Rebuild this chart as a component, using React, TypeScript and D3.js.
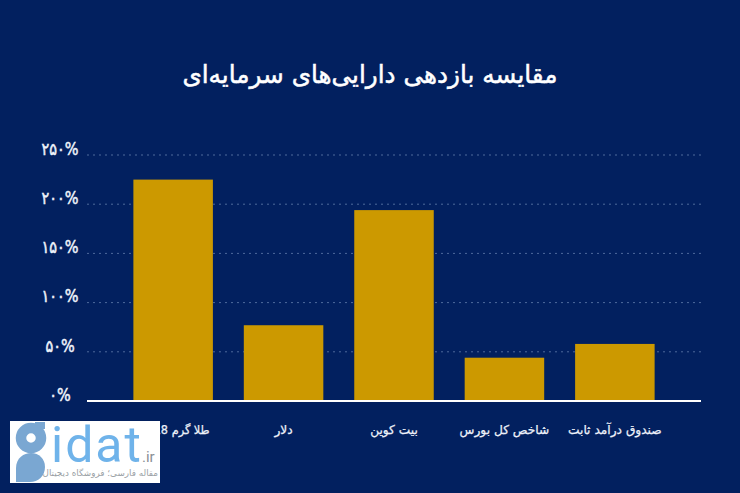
import React from "react";
import * as d3 from "d3";

const categories = ["طلا گرم 18", "دلار", "بیت کوین", "شاخص کل بورس", "صندوق درآمد ثابت"];
const returns = [225, 77, 194, 44, 58];
const ticks = [0, 50, 100, 150, 200, 250];
const tickLabels = ["۰%", "۵۰%", "۱۰۰%", "۱۵۰%", "۲۰۰%", "۲۵۰%"];
const title = "مقایسه بازدهی دارایی‌های سرمایه‌ای";

const width = 740;
const height = 493;
const font = "'DejaVu Sans', sans-serif";

const App: React.FC = () => {
  const x = d3
    .scaleBand<string>()
    .domain(categories)
    .range([87, 701])
    .paddingInner(0.28)
    .paddingOuter(0.42);
  const y = d3.scaleLinear().domain([0, 250]).range([401, 155]);

  return (
    <svg
      width={width}
      height={height}
      style={{ position: "absolute", left: 0, top: 0, background: "#02205f" }}
    >
      <text
        x={370}
        y={83}
        textAnchor="middle"
        direction="rtl"
        fill="#ffffff"
        stroke="#ffffff"
        strokeWidth={0.5}
        fontFamily={font}
        fontSize={24.7}
      >
        {title}
      </text>

      {ticks.slice(1).map((t) => (
        <line
          key={t}
          x1={87}
          x2={701}
          y1={y(t)}
          y2={y(t)}
          stroke="#4f6a9c"
          strokeWidth={1}
          strokeDasharray="2 4"
        />
      ))}

      {ticks.map((t, i) => (
        <text
          key={t}
          transform={`translate(60,${y(t) - 5}) scale(0.85,1)`}
          textAnchor="middle"
          dominantBaseline="middle"
          direction="ltr"
          fill="#eef2fa"
          stroke="#eef2fa"
          strokeWidth={0.5}
          fontFamily={font}
          fontSize={17}
        >
          {tickLabels[i]}
        </text>
      ))}

      {categories.map((c, i) => (
        <rect
          key={c}
          x={x(c)}
          y={y(returns[i])}
          width={x.bandwidth()}
          height={y(0) - y(returns[i])}
          fill="#cc9900"
        />
      ))}

      <line x1={87} x2={701} y1={y(0)} y2={y(0)} stroke="#ffffff" strokeWidth={2} />

      {categories.map((c, i) => (
        <text
          key={c}
          x={(x(c) ?? 0) + x.bandwidth() / 2 + (i === 0 ? 8.5 : 0)}
          y={434}
          textAnchor="middle"
          direction="rtl"
          fill="#eef2fa"
          stroke="#eef2fa"
          strokeWidth={0.25}
          fontFamily={font}
          fontSize={12.2}
          textLength={i === 0 ? 56 : undefined}
          lengthAdjust={i === 0 ? "spacingAndGlyphs" : undefined}
        >
          {c}
        </text>
      ))}

      {/* site logo over the corner */}
      <g>
        <rect x={10} y={421} width={150} height={62} fill="#ffffff" />
        <rect x={35} y={422} width={10} height={7} fill="#7aa7d2" />
        <circle cx={31} cy={438} r={10} fill="none" stroke="#7aa7d2" strokeWidth={10.5} />
        <path
          d="M16 468c0-10 8-15 15-15 8 0 14 6 14 14 0 9-7 15-15 15H16z"
          fill="#7aa7d2"
        />
        <text
          x={51}
          y={462}
          fill="#6fb3ea"
          fontFamily="Roboto, sans-serif"
          fontSize={50}
          letterSpacing={2}
        >
          idat
        </text>
        <text x={142} y={462} fill="#8a8f96" fontFamily="Roboto, sans-serif" fontSize={15}>
          .ir
        </text>
        <text
          x={158}
          y={476}
          textAnchor="start"
          direction="rtl"
          fill="#9a9fa5"
          fontFamily={font}
          fontSize={8.8}
        >
          مقاله فارسی؛ فروشگاه دیجیتال
        </text>
      </g>
    </svg>
  );
};

export default App;
